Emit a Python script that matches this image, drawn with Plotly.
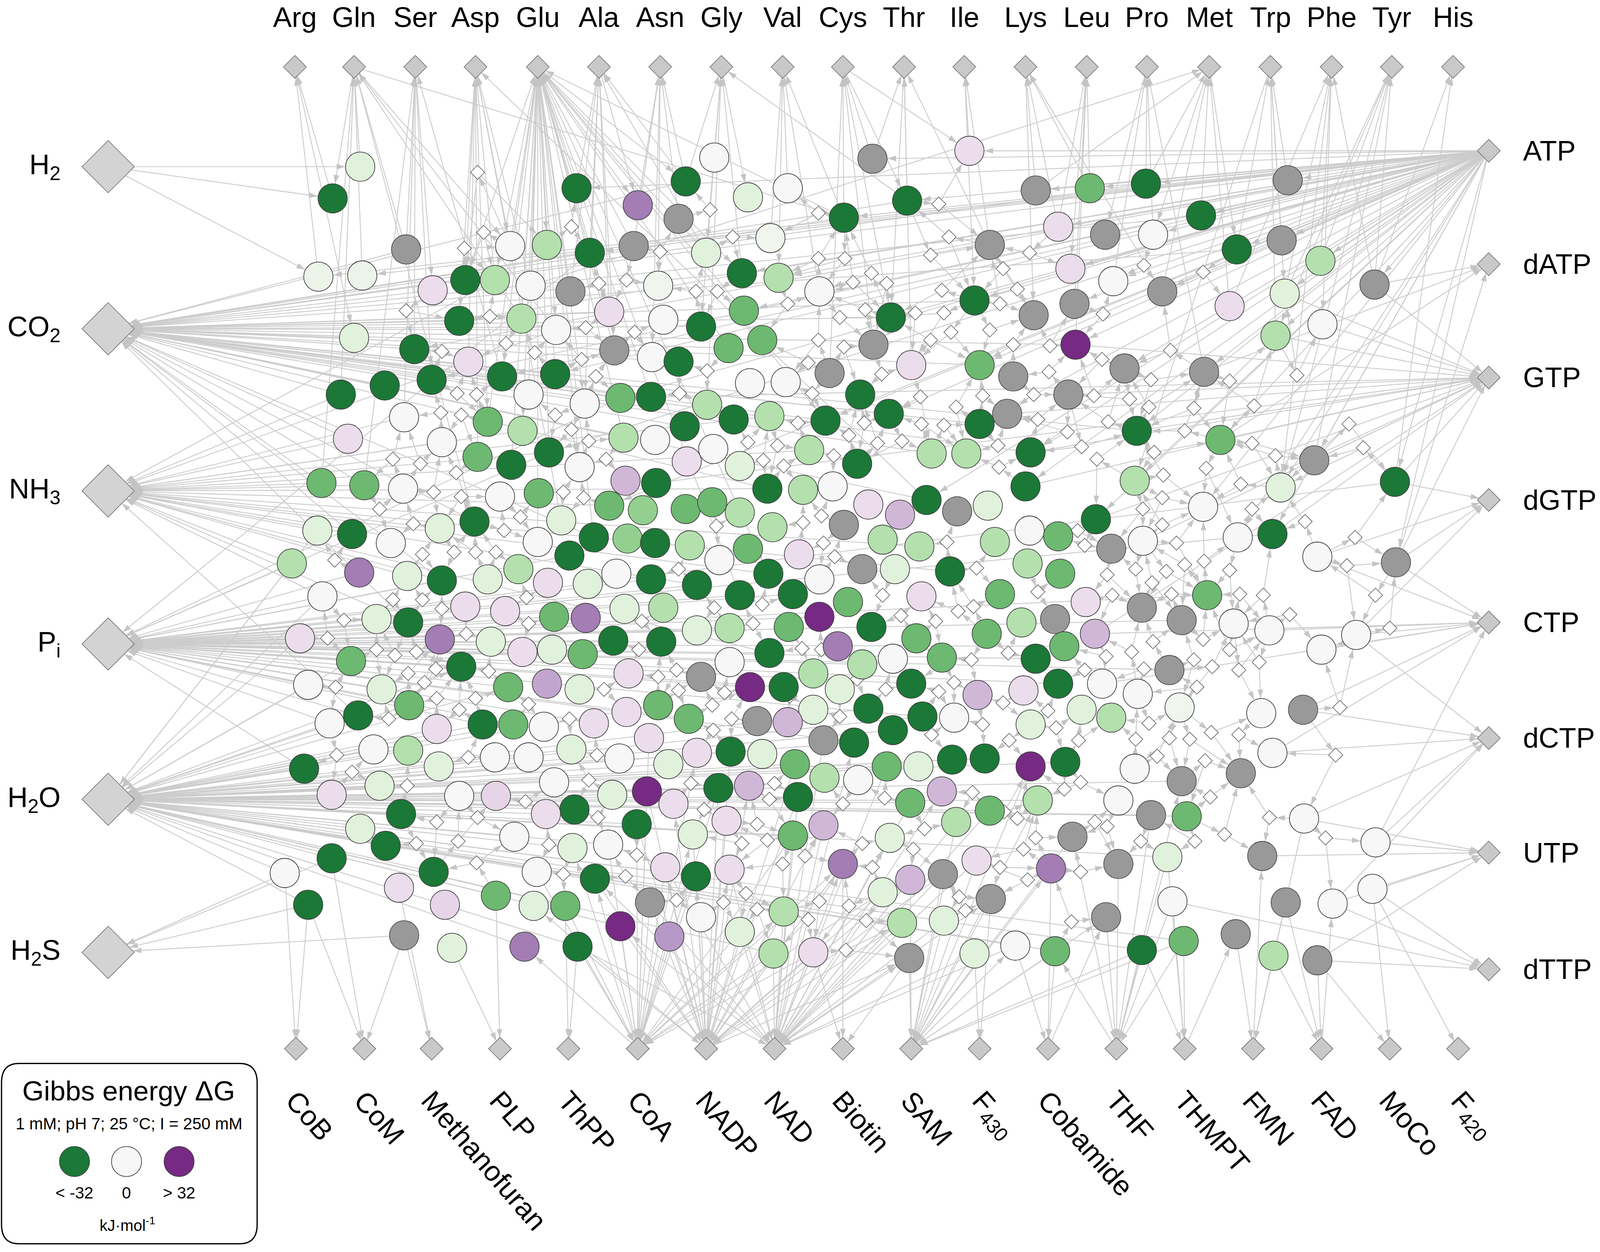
import math
import plotly.graph_objects as go

# ====================== DATA ======================
# Hub metabolites around the border
amino_names = ["Arg", "Gln", "Ser", "Asp", "Glu", "Ala", "Asn", "Gly", "Val", "Cys",
               "Thr", "Ile", "Lys", "Leu", "Pro", "Met", "Trp", "Phe", "Tyr", "His"]
amino_x = [289, 347, 407, 466, 527, 587, 647, 707, 767, 826,
           886, 945, 1005, 1065, 1124, 1185, 1245, 1305, 1364, 1424]
amino_y = 59

inorganic_names = ["H<sub>2</sub>", "CO<sub>2</sub>", "NH<sub>3</sub>", "P<sub>i</sub>",
                   "H<sub>2</sub>O", "H<sub>2</sub>S"]
inorganic_y = [147, 290, 433, 568, 705, 840]
inorganic_x = 106

ntp_names = ["ATP", "dATP", "GTP", "dGTP", "CTP", "dCTP", "UTP", "dTTP"]
ntp_y = [133, 233, 333, 441, 549, 651, 752, 855]
ntp_x = 1459

cofactor_names = ["CoB", "CoM", "Methanofuran", "PLP", "ThPP", "CoA", "NADP", "NAD", "Biotin",
                  "SAM", "F<sub>430</sub>", "Cobamide", "THF", "THMPT", "FMN", "FAD", "MoCo",
                  "F<sub>420</sub>"]
cofactor_x = [290, 357, 423, 490, 557, 625, 692, 759, 826, 893, 960, 1027, 1094, 1161,
              1228, 1295, 1362, 1429]
cofactor_y = 925

# Metabolite nodes (layout units), Gibbs energy dG in kJ/mol (None = unknown, grey)
ul_x = [353, 326, 565, 625, 398, 312, 355, 424, 456, 485,
        500, 536, 578, 621, 520, 559, 597, 645, 347, 406,
        450, 511, 545, 602, 639, 423, 377, 334, 459, 492,
        544, 518, 573, 608, 638, 396, 341, 433, 478, 512,
        468, 501, 538, 568, 611, 642, 613, 643, 315, 357, 395]
ul_y = [147, 175, 166, 181, 220, 244, 243, 256, 247, 247,
        217, 216, 223, 217, 252, 257, 275, 252, 298, 308,
        283, 281, 291, 309, 315, 335, 340, 348, 319, 332,
        330, 348, 356, 351, 350, 368, 387, 390, 372, 380,
        403, 410, 399, 412, 386, 388, 424, 426, 426, 428, 431]
ul_dg = [-6, -34, -34, 22, None, -3, -3, 6, -34, -14,
         0, -14, -34, None, 0, None, 6, -2, -6, -34,
         -34, -14, 0, None, 0, -34, -34, -34, 6, -34,
         -34, 0, 0, -22, -34, 0, 6, 0, -22, -14,
         -22, -34, -34, 0, -14, 0, 13, -34, -22, -22, 0]

um_x = [700, 672, 665, 733, 772, 855, 889, 827, 950, 1015,
        1068, 1037, 1083, 970, 755, 692, 727, 763, 803, 650,
        687, 729, 714, 747, 665, 873, 856, 1049, 1091, 1053,
        1013, 955, 893, 960, 993, 1054, 1102, 813, 735, 770,
        693, 671, 719, 754, 809, 843, 871, 987, 960, 1047,
        699, 673, 725, 793, 840, 913, 947, 1010]
um_y = [139, 160, 193, 174, 166, 140, 177, 192, 133, 168,
        166, 200, 207, 216, 210, 223, 241, 245, 257, 282,
        288, 274, 307, 300, 319, 280, 304, 237, 248, 268,
        278, 265, 322, 322, 332, 304, 325, 329, 338, 337,
        357, 376, 370, 367, 371, 348, 365, 365, 374, 348,
        396, 407, 411, 397, 409, 400, 400, 399]
um_dg = [0, -34, None, -6, 0, None, -34, -34, 6, None,
         -22, 6, None, None, -2, -6, -34, -14, 0, 0,
         -34, -22, -22, -22, -34, -34, None, 6, 0, None,
         None, -34, 6, -22, None, 34, None, None, 0, 0,
         -14, -34, -34, -14, -34, -34, -34, None, -34, None,
         0, 6, -6, -14, -34, -14, -14, -34]

ur_x = [1123, 1177, 1130, 1262, 1212, 1256, 1294, 1139, 1205, 1259,
        1347, 1296, 1250, 1180, 1114, 1196, 1288, 1367, 1112, 1255]
ur_y = [162, 190, 207, 159, 220, 212, 230, 257, 270, 259,
        251, 286, 296, 328, 380, 388, 406, 425, 424, 430]
ur_dg = [-34, -34, 0, None, -34, None, -14, None, 6, -6,
         None, 0, -14, None, -34, -22, None, -34, -14, -6]

ll_x = [490, 528, 311, 345, 383, 431, 465, 550, 527, 597,
        630, 582, 615, 642, 558, 286, 352, 399, 433, 478,
        508, 537, 576, 604, 638, 316, 369, 400, 456, 495,
        543, 574, 612, 650, 294, 431, 481, 512, 541, 571,
        601, 648, 344, 452, 302, 374, 401, 498, 536, 568,
        616, 645, 323, 351, 428, 473, 503, 533, 582, 614,
        636, 366, 400, 430, 485, 518, 560, 607, 655, 298,
        325, 372, 450, 486, 543, 600, 634, 393, 563, 535,
        624, 353, 504, 561, 596, 378, 325, 425, 526, 583,
        652, 279, 391, 486, 523, 554, 637, 302, 436, 608,
        656, 396, 443, 514, 566]
ll_y = [438, 435, 468, 471, 479, 466, 460, 459, 478, 446,
        450, 474, 475, 479, 490, 497, 505, 508, 512, 511,
        502, 514, 515, 506, 511, 526, 546, 549, 535, 539,
        544, 545, 537, 536, 563, 564, 566, 575, 573, 577,
        565, 566, 583, 588, 604, 608, 622, 606, 603, 608,
        594, 622, 638, 631, 643, 639, 639, 641, 638, 628,
        651, 661, 662, 676, 668, 668, 661, 669, 674, 678,
        701, 693, 702, 702, 690, 701, 698, 718, 714, 718,
        727, 731, 738, 748, 745, 746, 757, 769, 769, 775,
        765, 770, 783, 790, 799, 799, 796, 798, 798, 817,
        826, 825, 836, 835, 835]
ll_dg = [0, -22, -6, -34, 0, -6, -34, -6, 0, -22,
         -18, -34, -18, -34, -34, -14, 22, -6, -34, -6,
         -14, 6, -6, 0, -34, 0, -6, -34, 6, 6,
         -22, 22, -6, -14, 6, 22, -6, 6, -6, -22,
         -34, -34, -22, -34, 0, -6, -22, -22, 16, -6,
         6, -22, 0, -34, 6, -34, -22, 0, 6, 6,
         6, 0, -14, -6, 0, 0, -6, 0, -6, -34,
         6, -6, 0, 8, 0, -6, 34, -34, -34, 6,
         -34, -6, 0, -6, 0, -34, -34, -34, 0, -34,
         6, 0, 6, -22, -6, -22, None, -34, 8, 34,
         18, None, -6, 22, -34]

lm_x = [672, 698, 725, 752, 757, 787, 816, 827, 851, 882,
        865, 901, 908, 938, 968, 975, 1009, 1037, 1005, 1074,
        1089, 676, 705, 733, 783, 803, 753, 777, 683, 725,
        845, 877, 931, 1007, 1039, 831, 803, 854, 821, 845,
        875, 898, 903, 923, 980, 967, 1001, 1034, 1064, 1043,
        1015, 1073, 683, 715, 773, 754, 715, 797, 823, 893,
        687, 735, 768, 851, 904, 935, 958, 1003, 1037, 1080,
        1060, 1089, 1010, 797, 875, 675, 742, 772, 807, 837,
        716, 747, 683, 779, 808, 841, 869, 900, 933, 965,
        1010, 1044, 704, 734, 782, 892, 923, 970, 937, 1017,
        1096, 660, 679, 712, 777, 807, 872, 1051, 826, 957,
        924, 892, 865, 1030, 1096, 682, 715, 768, 971, 687,
        725, 758, 797, 884, 925, 891, 955, 995, 1034, 1084]
lm_y = [449, 443, 452, 431, 465, 432, 429, 463, 445, 454,
        476, 482, 441, 451, 446, 478, 468, 473, 429, 458,
        484, 481, 494, 484, 489, 511, 506, 524, 516, 525,
        502, 502, 504, 497, 506, 531, 544, 553, 570, 586,
        581, 563, 526, 580, 524, 559, 549, 546, 531, 570,
        581, 559, 556, 554, 553, 576, 584, 594, 608, 603,
        597, 606, 606, 625, 632, 633, 613, 609, 603, 603,
        626, 633, 639, 626, 644, 634, 636, 637, 653, 655,
        663, 665, 664, 674, 686, 688, 676, 676, 670, 669,
        676, 672, 695, 693, 703, 708, 698, 715, 725, 706,
        706, 709, 736, 724, 737, 728, 739, 738, 762, 759,
        771, 776, 787, 766, 762, 773, 767, 804, 793, 809,
        822, 841, 840, 814, 812, 845, 841, 834, 839, 809]
lm_dg = [-22, -22, -14, -34, -14, -14, 0, None, 6, 13,
         -14, -14, -34, None, -6, -14, 0, -22, -34, -34,
         None, -14, 0, -22, 6, 0, -34, -34, -34, -34,
         None, -6, -34, -14, -22, -22, 34, -34, 22, -14,
         0, -22, 6, -22, -22, -22, -14, None, 6, -22,
         -34, 13, -6, -14, -22, -34, 0, -14, -6, -34,
         None, 34, -34, -34, -34, 0, 13, 6, -34, 0,
         -6, -14, -6, -6, -34, -22, None, 13, None, -34,
         -34, -6, 6, -22, -14, 0, -22, -6, -34, -34,
         34, -34, -34, 13, -34, -22, 13, -22, -14, -14,
         0, 6, -6, 6, -22, 13, -6, None, 22, 6,
         None, 13, -6, 22, None, -34, 6, -14, None, 0,
         -6, -14, 6, -14, -6, None, -6, 0, -22, None]

lr_x = [1179, 1120, 1213, 1247, 1291, 1368, 1183, 1119, 1158, 1209,
        1244, 1295, 1329, 1146, 1115, 1156, 1236, 1277, 1247, 1112,
        1158, 1216, 1128, 1163, 1278, 1348, 1144, 1237, 1149, 1260,
        1306, 1345, 1119, 1160, 1211, 1248, 1291]
lr_y = [447, 477, 474, 471, 491, 496, 525, 536, 547, 550,
        556, 573, 560, 591, 612, 624, 629, 626, 664, 678,
        689, 682, 719, 720, 722, 743, 756, 755, 795, 796,
        797, 784, 838, 830, 824, 843, 847]
lr_dg = [0, 0, 0, -34, 0, None, -22, None, None, 0,
         0, 0, 0, None, 0, -2, 0, None, 0, 0,
         None, None, None, -22, 0, 0, -6, None, 0, None,
         0, 0, -34, -22, None, -14, None]

# Reaction nodes (small white diamonds)
reaction_x = [468, 474, 455, 560, 647, 398, 480, 587, 614, 574,
              622, 433, 496, 524, 570, 584, 448, 467, 432, 452,
              544, 560, 577, 594, 385, 412, 447,
              696, 802, 920, 718, 930, 802, 828, 912, 1009, 983,
              682, 703, 836, 869, 854, 923, 772, 848, 897, 925,
              980, 997, 1081, 823, 802, 827, 912, 932, 970, 993,
              1029, 1080, 792, 693, 864, 1028, 666, 796, 902, 963,
              1013, 1072, 937, 782, 847, 903, 925, 1017, 1086, 832,
              733, 762, 860, 884, 978, 1046, 1060, 748, 768, 817,
              979, 1075,
              1121, 1179, 1147, 1128, 1205, 1271, 1107, 1126, 1170, 1229,
              1161, 1227, 1131, 1250, 1322, 1336, 1182, 1140, 1216,
              372, 405, 425, 452, 510, 494, 414, 445, 466, 486,
              572, 552, 328, 385, 414, 433, 516, 629, 518, 337,
              321, 369, 387, 408, 457, 626, 645, 400, 427, 416,
              479, 329, 428, 466, 518, 592, 381, 450, 558, 585,
              330, 345, 399, 459, 515, 577, 468, 586, 428, 408,
              449, 538, 552, 467, 613, 624,
              702, 787, 805, 807, 818, 665, 700, 738, 747, 786,
              805, 865, 883, 917, 928, 957, 954, 939, 988, 1017,
              1056, 1063, 1085, 1090, 663, 665, 710, 698, 717, 699,
              774, 823, 868, 840, 920, 935, 913, 925, 952, 963,
              983, 1027, 1035, 1057, 1063, 1084, 989, 677, 759, 690,
              742, 754, 826, 867, 906, 953, 984, 997, 1043, 1059,
              1073, 1085, 727, 752, 767, 789, 845, 855, 895, 980,
              1003, 1007, 1059, 1015, 663, 709, 731, 742, 792, 803,
              832, 849, 940, 946, 1050, 829,
              1120, 1139, 1139, 1153, 1227, 1279, 1328, 1113, 1129, 1143,
              1161, 1180, 1205, 1148, 1215, 1238, 1264, 1320, 1348, 1362,
              1130, 1109, 1179, 1205, 1170, 1188, 1214, 1234, 1121, 1173,
              1313, 1126, 1113, 1146, 1166, 1187, 1214, 1134, 1181, 1309,
              1186, 1244, 1200, 1171, 1118, 1299]
reaction_y = [152, 205, 219, 200, 222, 274, 279, 250, 247, 289,
              293, 310, 303, 311, 317, 332, 347, 348, 364, 366,
              366, 379, 389, 405, 405, 409, 417,
              185, 188, 180, 209, 209, 228, 228, 225, 223, 237,
              257, 257, 249, 250, 241, 256, 268, 273, 276, 276,
              268, 255, 277, 280, 300, 306, 300, 293, 291, 304,
              305, 317, 320, 327, 330, 328, 347, 347, 350, 349,
              348, 349, 359, 373, 373, 374, 375, 370, 372, 384,
              390, 393, 391, 389, 393, 381, 394, 406, 411, 402,
              412, 405,
              234, 240, 309, 335, 336, 331, 352, 359, 360, 358,
              380, 391, 399, 402, 374, 395, 413, 419, 427,
              449, 462, 434, 438, 456, 468, 489, 487, 487, 487,
              439, 434, 494, 529, 529, 537, 527, 548, 550, 547,
              563, 573, 578, 575, 559, 573, 597, 594, 590, 602,
              592, 606, 616, 616, 621, 608, 634, 626, 634, 666,
              666, 681, 693, 668, 707, 688, 721, 721, 725, 744,
              742, 745, 771, 761, 773, 754,
              464, 461, 455, 479, 491, 502, 536, 550, 533, 572,
              573, 525, 543, 548, 478, 501, 535, 539, 576, 522,
              468, 481, 507, 525, 591, 609, 611, 622, 634, 644,
              614, 632, 608, 599, 610, 602, 648, 586, 582, 639,
              620, 627, 642, 653, 591, 579, 653, 691, 691, 714,
              727, 705, 709, 704, 731, 699, 716, 722, 696, 690,
              725, 729, 744, 741, 762, 755, 744, 765, 749, 765,
              749, 776, 769, 739, 794, 796, 788, 802, 811, 795,
              799, 812, 791, 803, 813, 838,
              449, 439, 463, 479, 449, 460, 474, 502, 514, 504,
              498, 495, 503, 524, 524, 525, 542, 499, 525, 554,
              566, 575, 564, 573, 582, 588, 591, 584, 590, 606,
              624, 638, 652, 651, 652, 646, 648, 667, 671, 666,
              703, 721, 736, 742, 742, 739]

# Links between hub metabolites and metabolite nodes (node indices)
inorganic_links = {
    "H<sub>2</sub>": [5, 1, 0],
    "CO<sub>2</sub>": [18, 27, 26, 19, 25, 20, 8, 29, 30, 33, 34, 21, 12, 16, 44, 71, 73, 75,
                       92, 93, 95, 97, 99, 57, 58, 76, 82, 84, 106, 108, 86, 123, 113, 110,
                       109, 36, 48, 49, 132, 135, 140, 147, 156, 246, 237, 4, 7, 22, 67, 52],
    "NH<sub>3</sub>": [48, 49, 36, 27, 35, 131, 132, 144, 154, 9, 22, 37, 39, 42, 138, 147,
                       156, 182, 262, 260, 237, 289, 94, 104, 245, 266, 134, 146],
    "P<sub>i</sub>": [163, 171, 173, 144, 154, 181, 155, 156, 164, 172, 175, 176, 168, 169,
                      170, 160, 159, 153, 143, 184, 185, 187, 147, 182, 198, 262, 263, 287,
                      289, 286, 295, 296, 261, 271, 293, 298, 302, 284, 283, 270, 273, 309,
                      313, 370, 372, 377, 367, 126, 12, 33, 42, 145, 174],
    "H<sub>2</sub>O": [198, 199, 206, 210, 214, 215, 220, 226, 190, 191, 200, 181, 182, 183,
                       184, 185, 207, 209, 216, 218, 222, 224, 233, 201, 202, 208, 212, 205,
                       326, 328, 314, 317, 320, 322, 323, 325, 329, 331, 333, 338, 349, 351,
                       355, 357, 361, 362, 313, 308, 297, 298, 384, 387, 396, 397, 386, 390,
                       176, 172, 175, 171, 163, 173, 228, 232, 213, 211, 196, 195, 204, 180,
                       197, 154, 144, 131],
    "H<sub>2</sub>S": [226, 220, 215, 230],
}
ntp_links = {
    "ATP": [109, 110, 113, 112, 115, 118, 121, 116, 111, 61, 62, 60, 78, 79, 80, 82, 57, 58,
            56, 59, 76, 86, 87, 84, 99, 108, 123, 124, 125, 126, 127, 128, 67, 68, 72, 97,
            95, 33, 30, 20, 29, 12, 8, 2, 5, 6, 19, 25, 42, 138, 246, 252, 253, 367, 369,
            122, 119, 114, 364, 366],
    "dATP": [119, 122, 124, 369],
    "GTP": [119, 120, 121, 125, 126, 118, 86, 100, 98, 108, 253, 367, 369, 364, 365, 285,
            123, 124, 33, 47, 252],
    "dGTP": [126, 369, 376, 368],
    "CTP": [376, 375, 374, 368, 381, 369, 382, 285, 303, 389],
    "dCTP": [381, 382, 388, 389, 376, 394],
    "UTP": [389, 395, 394, 388, 391, 400],
    "dTTP": [395, 394, 400, 392],
}
amino_links = {
    "Arg": [1, 5, 18],
    "Gln": [0, 6, 1, 27, 4, 10, 48, 21, 58, 135, 22],
    "Ser": [4, 19, 7, 49, 35, 25, 29],
    "Asp": [8, 9, 20, 28, 14, 10, 40, 136, 38, 246],
    "Glu": [2, 10, 11, 14, 21, 22, 12, 8, 9, 13, 15, 16, 30, 31, 32, 29, 38, 39, 41, 42, 43,
            44, 66, 67, 72, 73, 3, 23, 34, 52, 137, 140, 260, 263, 58, 95],
    "Ala": [2, 12, 3, 15, 16, 23, 52, 66, 32],
    "Asn": [3, 13, 17, 52, 53, 24],
    "Gly": [51, 52, 54, 66, 67, 71, 91, 57],
    "Val": [55, 65, 68, 58, 69],
    "Cys": [58, 56, 57, 88, 77, 59, 76],
    "Thr": [57, 56, 76, 83, 64],
    "Ile": [59, 64, 82],
    "Lys": [60, 62, 81, 116, 61],
    "Leu": [61, 62, 78, 80, 86],
    "Pro": [109, 79, 63, 111, 122],
    "Met": [109, 110, 113, 116, 117, 111, 60, 14],
    "Trp": [112, 114, 118, 121, 113, 127],
    "Phe": [115, 119, 120, 118, 117, 128],
    "Tyr": [115, 119, 121, 125, 118, 128],
    "His": [126, 119],
}
cofactor_links = {
    "CoB": [226, 220],
    "CoM": [226, 230, 215],
    "Methanofuran": [221, 230],
    "PLP": [222, 231],
    "ThPP": [233, 224],
    "CoA": [228, 229, 233, 232, 225, 219, 224, 218, 213, 209, 205, 212, 217, 189, 349, 351,
            354, 355, 356, 342, 346, 338, 316, 336, 326],
    "NADP": [353, 354, 355, 349, 350, 337, 336, 335, 229, 228, 225, 219, 351, 356, 342, 339,
             346, 345, 357, 359, 344, 314, 326, 327, 328, 317, 233, 223, 218, 209, 205],
    "NAD": [355, 356, 351, 342, 346, 345, 357, 359, 358, 360, 344, 340, 339, 338, 329, 330,
            331, 332, 343, 352, 361, 328, 320, 313, 312, 350, 354, 228, 233, 225, 219, 218],
    "Biotin": [356, 342, 359],
    "SAM": [359, 358, 360, 361, 362, 352, 343, 347, 344, 345, 332, 363, 396, 397, 324, 333, 341],
    "F<sub>430</sub>": [360, 352],
    "Cobamide": [362, 361, 347, 363],
    "THF": [363, 396, 397, 362, 392, 341, 348, 384, 386, 390],
    "THMPT": [397, 396, 392, 398, 390],
    "FMN": [398, 399, 393, 391, 388],
    "FAD": [400, 399, 393, 394],
    "MoCo": [400, 395],
    "F<sub>420</sub>": [395],
}

legend_values = [-32, 0, 32]
legend_labels = ["&lt; -32", "0", "&gt; 32"]

# ====================== STYLE ======================
# The captured viewport is narrower than the requested window (about 4087 x 3205 CSS px);
# the figure is sized to that viewport (and re-fitted to it in the browser).
W, H = 4087, 3205
X_MAX = 1568.0
Y_MAX = 1104.3
PXX = W / X_MAX           # CSS px per layout unit, horizontally
PXY = H / Y_MAX           # CSS px per layout unit, vertically

CIRCLE_PX = 75
REACTION_PX = 28
HUB_PX = 45
BIG_HUB_PX = 103
ARROW_PX = 23
FONT = "Liberation Sans, Arial, sans-serif"
LABEL_SIZE = 72
EDGE_COLOR = "#cccccc"

colorscale = [[0.0, "#1b7837"], [0.125, "#5aae61"], [0.25, "#a6dba0"], [0.375, "#d9f0d3"],
              [0.5, "#f7f7f7"], [0.625, "#e7d4e8"], [0.75, "#c2a5cf"], [0.875, "#9970ab"],
              [1.0, "#762a83"]]

# ====================== BUILD ======================
node_x = ul_x + um_x + ur_x + ll_x + lm_x + lr_x
node_y = ul_y + um_y + ur_y + ll_y + lm_y + lr_y
node_dg = ul_dg + um_dg + ur_dg + ll_dg + lm_dg + lr_dg
n_nodes = min(len(node_x), len(node_y), len(node_dg))

# node outlines in pixels (circle radius / diamond half-diagonal)
CIRC = ("c", CIRCLE_PX / 2 + 1)
REAC = ("d", 1.3 * REACTION_PX / 2)
HUB = ("d", 1.3 * HUB_PX / 2)
BIG = ("d", 1.3 * BIG_HUB_PX / 2)


def boundary(shape, ux, uy):
    kind, r = shape
    if kind == "c":
        return r
    return r / (abs(ux) + abs(uy))


ex, ey = [], []
ax, ay, aang = [], [], []


def add_edge(s, t, t_shape, arrow=True):
    sx, sy = s
    tx, ty = t
    dxp, dyp = (tx - sx) * PXX, (ty - sy) * PXY
    d = math.hypot(dxp, dyp)
    if d < 1e-6:
        return
    ux, uy = dxp / d, dyp / d
    ex.extend([sx, tx, None])
    ey.extend([sy, ty, None])
    if arrow:
        b = boundary(t_shape, ux, uy)
        ax.append(tx - ux * b / PXX)
        ay.append(ty - uy * b / PXY)
        aang.append(math.degrees(math.atan2(ux, -uy)))


def node(i):
    return (node_x[i], node_y[i])


for k, name in enumerate(inorganic_names):
    hub = (inorganic_x, inorganic_y[k])
    for i in inorganic_links.get(name, []):
        if i >= n_nodes:
            continue
        if name == "H<sub>2</sub>":
            add_edge(hub, node(i), CIRC)
        else:
            add_edge(node(i), hub, BIG)

for k, name in enumerate(ntp_names):
    hub = (ntp_x, ntp_y[k])
    for i in ntp_links.get(name, []):
        if i >= n_nodes:
            continue
        if name == "ATP":
            add_edge(hub, node(i), CIRC)
        else:
            add_edge(node(i), hub, HUB)

for k, name in enumerate(amino_names):
    hub = (amino_x[k], amino_y)
    for j, i in enumerate(amino_links.get(name, [])):
        if i >= n_nodes:
            continue
        if j % 3 == 2:
            add_edge(hub, node(i), CIRC)
        else:
            add_edge(node(i), hub, HUB)

for k, name in enumerate(cofactor_names):
    hub = (cofactor_x[k], cofactor_y)
    for j, i in enumerate(cofactor_links.get(name, [])):
        if i >= n_nodes:
            continue
        if j % 4 == 3:
            add_edge(hub, node(i), CIRC)
        else:
            add_edge(node(i), hub, HUB)

# reaction nodes: each linked to the metabolites it sits among
for rx, ry in zip(reaction_x, reaction_y):
    order = sorted(range(n_nodes), key=lambda i: (node_x[i] - rx) ** 2 + (node_y[i] - ry) ** 2)
    near = order[:3]
    add_edge(node(near[0]), (rx, ry), REAC)
    for i in near[1:]:
        add_edge((rx, ry), node(i), CIRC)

fig = go.Figure()

fig.add_trace(go.Scatter(x=ex, y=ey, mode="lines", line=dict(color=EDGE_COLOR, width=2.3),
                         hoverinfo="skip", showlegend=False))
fig.add_trace(go.Scatter(x=ax, y=ay, mode="markers",
                         marker=dict(symbol="arrow", size=ARROW_PX, angle=aang,
                                     color="#c4c4c4", line=dict(width=0)),
                         hoverinfo="skip", showlegend=False))
fig.add_trace(go.Scatter(x=reaction_x, y=reaction_y, mode="markers",
                         marker=dict(symbol="diamond", size=REACTION_PX, color="white",
                                     line=dict(color="#666666", width=1.7)),
                         hoverinfo="skip", showlegend=False))

hx = amino_x + [ntp_x] * len(ntp_y) + cofactor_x
hy = [amino_y] * len(amino_x) + ntp_y + [cofactor_y] * len(cofactor_x)
fig.add_trace(go.Scatter(x=hx, y=hy, mode="markers",
                         marker=dict(symbol="diamond", size=HUB_PX, color="#c9c9c9",
                                     line=dict(color="#6f6f6f", width=1.7)),
                         hoverinfo="skip", showlegend=False))
fig.add_trace(go.Scatter(x=[inorganic_x] * len(inorganic_y), y=inorganic_y, mode="markers",
                         marker=dict(symbol="diamond", size=BIG_HUB_PX, color="#d3d3d3",
                                     line=dict(color="#777777", width=1.8)),
                         hoverinfo="skip", showlegend=False))

kx = [node_x[i] for i in range(n_nodes) if node_dg[i] is not None]
ky = [node_y[i] for i in range(n_nodes) if node_dg[i] is not None]
kv = [node_dg[i] for i in range(n_nodes) if node_dg[i] is not None]
gx = [node_x[i] for i in range(n_nodes) if node_dg[i] is None]
gy = [node_y[i] for i in range(n_nodes) if node_dg[i] is None]
fig.add_trace(go.Scatter(x=gx, y=gy, mode="markers",
                         marker=dict(symbol="circle", size=CIRCLE_PX, color="#999999",
                                     line=dict(color="#4a4a4a", width=1.8)),
                         hoverinfo="skip", showlegend=False))
fig.add_trace(go.Scatter(x=kx, y=ky, mode="markers",
                         marker=dict(symbol="circle", size=CIRCLE_PX, color=kv,
                                     colorscale=colorscale, cmin=-32, cmax=32, showscale=False,
                                     line=dict(color="#3f3f3f", width=1.8)),
                         hoverinfo="skip", showlegend=False))

# legend
lx = [73, 124, 175.5]
fig.add_trace(go.Scatter(x=lx, y=[1024.5] * 3, mode="markers",
                         marker=dict(symbol="circle", size=77, color=legend_values,
                                     colorscale=colorscale, cmin=-32, cmax=32, showscale=False,
                                     line=dict(color="#3f3f3f", width=1.8)),
                         hoverinfo="skip", showlegend=False))

x0, x1, y0, y1 = 1.5, 252, 938, 1097
rx_, ry_ = 17, 17
path = (f"M {x0 + rx_},{y0} L {x1 - rx_},{y0} Q {x1},{y0} {x1},{y0 + ry_} "
        f"L {x1},{y1 - ry_} Q {x1},{y1} {x1 - rx_},{y1} L {x0 + rx_},{y1} "
        f"Q {x0},{y1} {x0},{y1 - ry_} L {x0},{y0 + ry_} Q {x0},{y0} {x0 + rx_},{y0} Z")
shapes = [dict(type="path", path=path, xref="x", yref="y", layer="below",
               line=dict(color="black", width=3.2), fillcolor="white")]

ann = []
for name, x in zip(amino_names, amino_x):
    ann.append(dict(x=x, y=15, text=name, showarrow=False, xanchor="center", yanchor="middle",
                    font=dict(size=LABEL_SIZE, family=FONT, color="black")))
for name, y in zip(inorganic_names, inorganic_y):
    ann.append(dict(x=60, y=y, text=name, showarrow=False, xanchor="right", yanchor="middle",
                    font=dict(size=LABEL_SIZE, family=FONT, color="black")))
for name, y in zip(ntp_names, ntp_y):
    ann.append(dict(x=1492, y=y, text=name, showarrow=False, xanchor="left", yanchor="middle",
                    font=dict(size=LABEL_SIZE, family=FONT, color="black")))
for name, x in zip(cofactor_names, cofactor_x):
    ann.append(dict(x=x - 17, y=956, text=name, showarrow=False, xanchor="left", yanchor="top",
                    textangle=49, font=dict(size=LABEL_SIZE, family=FONT, color="black")))

ann.append(dict(x=126, y=962, text="Gibbs energy ΔG", showarrow=False, xanchor="center",
                yanchor="middle", font=dict(size=71, family=FONT, color="black")))
ann.append(dict(x=126.5, y=991, text="1 mM; pH 7; 25 °C; I = 250 mM", showarrow=False,
                xanchor="center", yanchor="middle", font=dict(size=42, family=FONT, color="black")))
for x, t in zip(lx, legend_labels):
    ann.append(dict(x=x, y=1052, text=t, showarrow=False, xanchor="center", yanchor="middle",
                    font=dict(size=42, family=FONT, color="black")))
ann.append(dict(x=125, y=1080, text="kJ·mol<sup>-1</sup>", showarrow=False, xanchor="center",
                yanchor="middle", font=dict(size=40, family=FONT, color="black")))

fig.update_layout(
    width=W, height=H,
    margin=dict(l=0, r=0, t=0, b=0),
    paper_bgcolor="white", plot_bgcolor="white",
    xaxis=dict(range=[0, X_MAX], visible=False, fixedrange=True),
    yaxis=dict(range=[Y_MAX, 0], visible=False, fixedrange=True),
    shapes=shapes,
    annotations=ann,
    showlegend=False,
)

fit_script = (
    "document.documentElement.style.margin='0';document.body.style.margin='0';"
    "document.body.style.overflow='hidden';"
    "var w=window.innerWidth,h=window.innerHeight;"
    "if(w>1000&&h>1000){Plotly.relayout(document.getElementById('{plot_id}'),"
    "{width:w,height:h});}"
)

fig.write_html("out.html", post_script=fit_script,
               config={"displayModeBar": False, "staticPlot": True})
